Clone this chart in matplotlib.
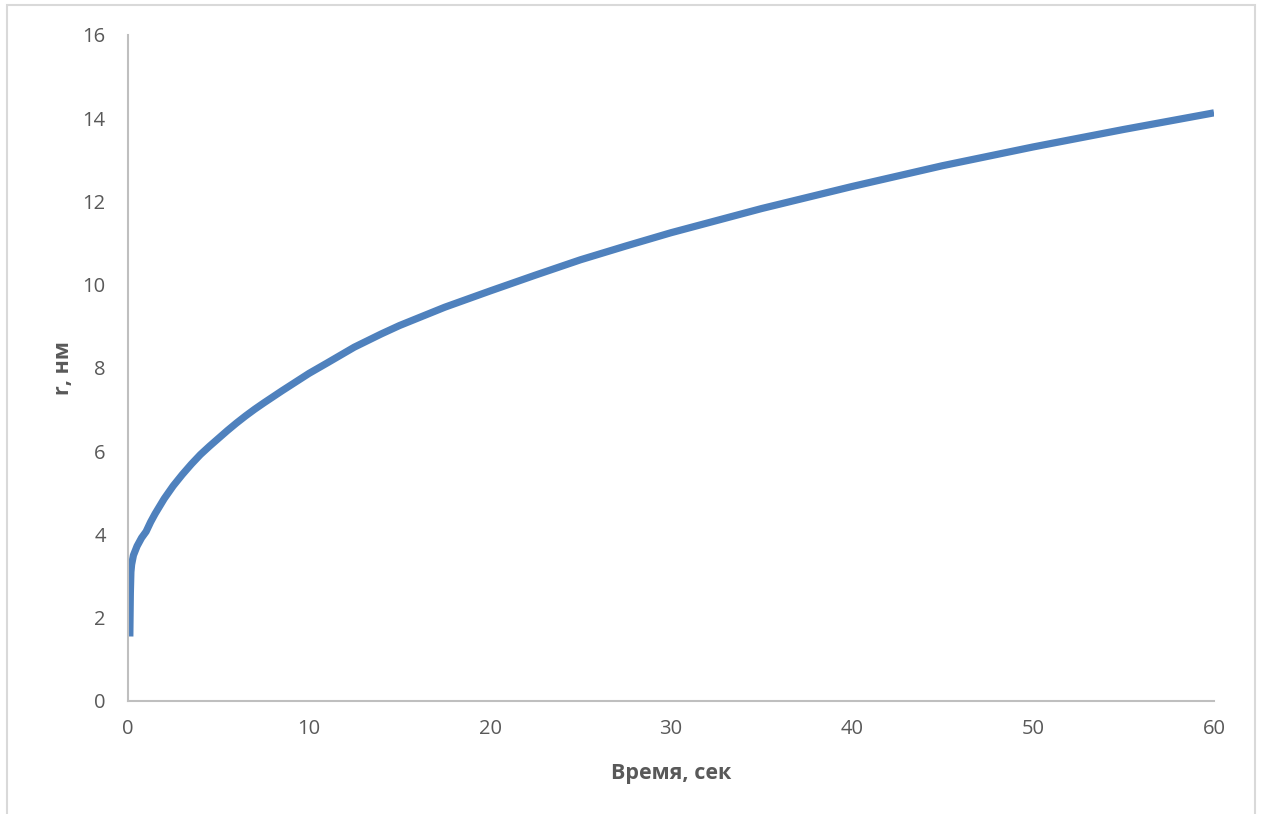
import matplotlib
matplotlib.use("Agg")
import matplotlib.pyplot as plt
from matplotlib.patches import Rectangle

# Particle radius growth over time
time_s = [0.1, 0.13, 0.16, 0.2, 0.3, 0.5, 0.75, 1.0, 1.25, 1.5, 2, 2.5, 3, 3.5,
          4, 4.5, 5, 5.5, 6, 6.5, 7, 7.5, 8.5, 10, 11, 12.5, 14, 15, 17.5,
          20, 22.5, 25, 27.5, 30, 35, 40, 45, 50, 55, 60]
radius_nm = [1.55, 2.6, 3.1, 3.28, 3.5, 3.72, 3.92, 4.07, 4.3, 4.5, 4.86, 5.17,
             5.44, 5.69, 5.92, 6.12, 6.31, 6.5, 6.68, 6.85, 7.01, 7.16, 7.45,
             7.87, 8.12, 8.5, 8.82, 9.02, 9.46, 9.85, 10.23, 10.6, 10.93,
             11.25, 11.83, 12.36, 12.86, 13.31, 13.73, 14.13]

x_ticks = [0, 10, 20, 30, 40, 50, 60]
y_ticks = [0, 2, 4, 6, 8, 10, 12, 14, 16]

x_title = "Время, сек"
y_title = "r, нм"

plt.rcParams["font.family"] = ["Open Sans", "DejaVu Sans"]

W, H = 1261, 814
fig = plt.figure(figsize=(W / 100, H / 100), dpi=100)
fig.patch.set_facecolor("white")

# chart-area border
fig.patches.append(Rectangle((7 / W, -0.05), (1255 - 7) / W, 1.05 - 5 / H,
                             transform=fig.transFigure, fill=False,
                             edgecolor="#D9D9D9", linewidth=1.5))

ax = fig.add_axes([128 / W, (H - 701) / H, (1214 - 128) / W, (701 - 35) / H])
ax.plot(time_s, radius_nm, color="#4F81BD", linewidth=5.2,
        solid_capstyle="butt", solid_joinstyle="round")

ax.set_xlim(0, 60)
ax.set_ylim(0, 16)
ax.set_xticks(x_ticks)
ax.set_yticks(y_ticks)

for side in ("top", "right"):
    ax.spines[side].set_visible(False)
for side in ("left", "bottom"):
    ax.spines[side].set_color("#BFBFBF")
    ax.spines[side].set_linewidth(1.5)

ax.tick_params(axis="both", length=0, labelsize=14.5, colors="#595959")
ax.tick_params(axis="y", pad=16)
ax.tick_params(axis="x", pad=13)

ax.set_xlabel(x_title, fontsize=15.5, fontweight="bold", color="#595959",
              labelpad=17)
ax.set_ylabel(y_title, fontsize=15.5, fontweight="bold", color="#595959",
              labelpad=6)

fig.savefig("out.png", dpi=100)
